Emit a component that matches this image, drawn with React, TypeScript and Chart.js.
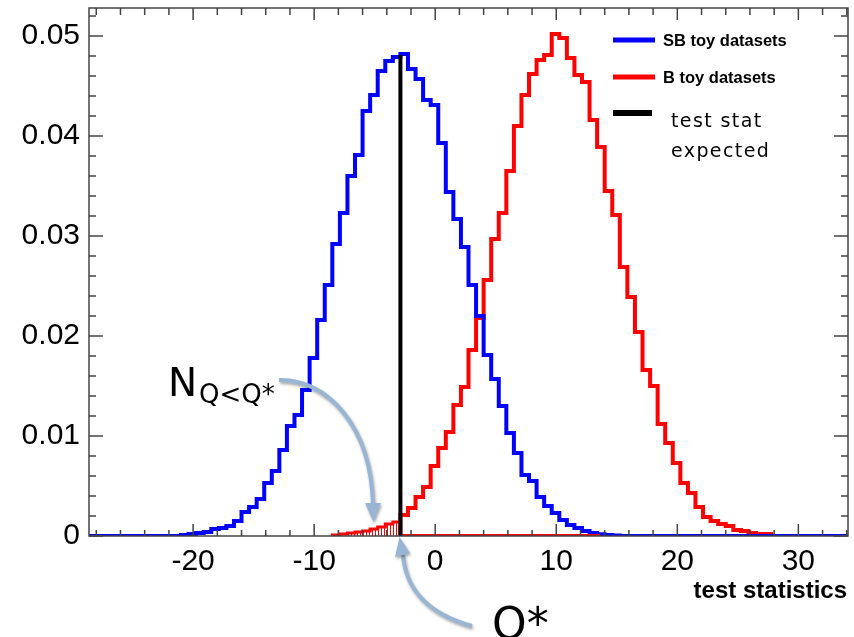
import React, { useEffect, useRef } from "react";
import { Chart, registerables } from "chart.js";

Chart.register(...registerables);

// ---------------- data ----------------
const binStart = -28.5;
const binWidth = 0.625;

// SB toy datasets histogram (blue), bins starting at index sbFirstBin
const sbFirstBin = 12;
const sbValues = [
  0.0001, 0.0002, 0.0003, 0.0004, 0.0007, 0.0008, 0.001, 0.0015, 0.0024, 0.0029,
  0.0037, 0.0053, 0.0065, 0.0086, 0.011, 0.0121, 0.0146, 0.0178, 0.0216, 0.0251,
  0.0292, 0.0323, 0.036, 0.0381, 0.0425, 0.0441, 0.0465, 0.0475, 0.0479, 0.0482,
  0.0467, 0.0457, 0.0436, 0.0431, 0.0393, 0.0344, 0.0317, 0.0289, 0.0251, 0.022,
  0.0181, 0.0157, 0.013, 0.0103, 0.0083, 0.0061, 0.0055, 0.0039, 0.003, 0.0023,
  0.0016, 0.0011, 0.0008, 0.0005, 0.0003, 0.00017, 0.0001, 0.00005,
];

// B toy datasets histogram (red)
const bFirstBin = 32;
const bValues = [
  0.0001, 0.0002, 0.0003, 0.0004, 0.0005, 0.0007, 0.0009, 0.0012, 0.0014, 0.0021,
  0.0028, 0.0039, 0.0049, 0.007, 0.0088, 0.0104, 0.0131, 0.0149, 0.0186, 0.0218,
  0.0256, 0.0297, 0.0323, 0.0365, 0.041, 0.0441, 0.0462, 0.0476, 0.0481, 0.0502,
  0.0498, 0.0478, 0.0461, 0.0454, 0.0416, 0.0389, 0.0345, 0.0321, 0.0269, 0.0239,
  0.0204, 0.0166, 0.015, 0.0112, 0.0093, 0.0073, 0.0053, 0.0043, 0.0029, 0.0019,
  0.0015, 0.0012, 0.001, 0.0006, 0.0005, 0.0003, 0.0002, 0.0002,
];

// expected test statistic
const qStar = -2.875;
const qStarHeight = 0.0481;
const redBaselineEnd = 13.6;

// axes
const xMin = -28.6;
const xMax = 34.1;
const yMin = 0;
const yMax = 0.0528;
const xMajorTicks = [-20, -10, 0, 10, 20, 30];
const yMajorTicks = [0, 0.01, 0.02, 0.03, 0.04, 0.05];
const xMinorStep = 2;
const yMinorStep = 0.002;

const legendLabels = ["SB toy datasets", "B toy datasets"];
const legendExtra = ["test stat", "expected"];
const xTitle = "test statistics";
const annotationN = "N";
const annotationSub = "Q<Q*";
const annotationQ = "Q*";

// ---------------- helpers ----------------
const edge = (k: number) => binStart + k * binWidth;

function histPoints(first: number, values: number[], padMin?: number, padMax?: number) {
  const pts: { x: number; y: number }[] = [];
  if (padMin !== undefined) pts.push({ x: padMin, y: 0 });
  pts.push({ x: edge(first), y: 0 });
  values.forEach((v, i) => pts.push({ x: edge(first + i), y: v }));
  const last = first + values.length;
  pts.push({ x: edge(last), y: values[values.length - 1] });
  pts.push({ x: edge(last), y: 0 });
  if (padMax !== undefined) pts.push({ x: padMax, y: 0 });
  return pts;
}

const SANS = '"Liberation Sans", Arial, Helvetica, sans-serif';
const GEO = '"DejaVu Sans", sans-serif';

const overlayPlugin = {
  id: "overlay",
  afterDatasetsDraw(chart: any) {
    const { ctx, chartArea: a, scales } = chart;
    const xs = scales.x;
    const ys = scales.y;
    ctx.save();
    ctx.strokeStyle = "#444";
    ctx.lineWidth = 1.5;
    ctx.strokeRect(a.left, a.top, a.right - a.left, a.bottom - a.top);
    ctx.beginPath();
    for (let v = Math.ceil(xMin / xMinorStep) * xMinorStep; v <= xMax; v += xMinorStep) {
      const px = xs.getPixelForValue(v);
      const major = xMajorTicks.includes(v);
      ctx.moveTo(px, a.bottom);
      ctx.lineTo(px, a.bottom - (major ? 12 : 6));
      ctx.moveTo(px, a.top);
      ctx.lineTo(px, a.top + (major ? 12 : 7));
    }
    for (let i = 0; ; i++) {
      const v = i * yMinorStep;
      if (v > yMax) break;
      const py = ys.getPixelForValue(v);
      const major = i % 5 === 0;
      ctx.moveTo(a.left, py);
      ctx.lineTo(a.left + (major ? 14 : 7), py);
      ctx.moveTo(a.right, py);
      ctx.lineTo(a.right - (major ? 14 : 7), py);
    }
    ctx.stroke();
    ctx.restore();
  },
  afterDraw(chart: any) {
    const { ctx } = chart;
    ctx.save();
    // legend
    const legendColors = ["#0000ff", "#ff0000"];
    const legendY = [40, 77];
    ctx.lineCap = "butt";
    legendLabels.forEach((lab, i) => {
      ctx.strokeStyle = legendColors[i];
      ctx.lineWidth = 5;
      ctx.beginPath();
      ctx.moveTo(613, legendY[i]);
      ctx.lineTo(655, legendY[i]);
      ctx.stroke();
      ctx.fillStyle = "#000";
      ctx.font = `bold 16.5px ${SANS}`;
      ctx.textBaseline = "alphabetic";
      ctx.textAlign = "left";
      ctx.fillText(lab, 663, legendY[i] + 6);
    });
    ctx.strokeStyle = "#000";
    ctx.lineWidth = 6;
    ctx.beginPath();
    ctx.moveTo(613, 113);
    ctx.lineTo(652, 113);
    ctx.stroke();
    ctx.font = `19px ${GEO}`;
    (ctx as any).letterSpacing = "1.4px";
    ctx.fillText(legendExtra[0], 671, 127);
    ctx.fillText(legendExtra[1], 671, 157);
    (ctx as any).letterSpacing = "0px";

    // axis title
    ctx.font = `bold 24px ${SANS}`;
    ctx.textAlign = "right";
    ctx.fillText(xTitle, 847, 598);

    // annotations
    ctx.textAlign = "left";
    ctx.font = `39px ${GEO}`;
    ctx.fillText(annotationN, 168, 396);
    ctx.font = `26px ${GEO}`;
    ctx.fillText(annotationSub, 199, 403);
    ctx.font = `44px ${GEO}`;
    ctx.fillText(annotationQ, 492, 639);

    // arrows
    ctx.shadowColor = "rgba(0,0,0,0.35)";
    ctx.shadowBlur = 3;
    ctx.shadowOffsetX = 1;
    ctx.shadowOffsetY = 2;
    ctx.strokeStyle = "#98b6d4";
    ctx.fillStyle = "#98b6d4";
    ctx.lineWidth = 4;
    ctx.beginPath();
    ctx.moveTo(279, 380);
    ctx.bezierCurveTo(327, 379, 371, 425, 373, 505);
    ctx.stroke();
    ctx.beginPath();
    ctx.moveTo(373.5, 522);
    ctx.lineTo(365, 503);
    ctx.lineTo(381, 503);
    ctx.closePath();
    ctx.fill();

    ctx.beginPath();
    ctx.moveTo(472, 626);
    ctx.bezierCurveTo(432, 615, 406, 592, 403, 555);
    ctx.stroke();
    ctx.beginPath();
    ctx.moveTo(399.5, 537);
    ctx.lineTo(395, 557);
    ctx.lineTo(410, 553);
    ctx.closePath();
    ctx.fill();
    ctx.restore();
  },
};

export default function App() {
  const canvasRef = useRef<HTMLCanvasElement | null>(null);

  useEffect(() => {
    document.body.style.margin = "0";
    document.body.style.overflow = "hidden";
    const canvas = canvasRef.current!;
    const ctx = canvas.getContext("2d")!;

    const pc = document.createElement("canvas");
    pc.width = 3;
    pc.height = 3;
    const pctx = pc.getContext("2d")!;
    pctx.fillStyle = "#ff0000";
    pctx.fillRect(0, 0, 1, 3);
    const hatch = ctx.createPattern(pc, "repeat");

    const qBin = Math.round((qStar - binStart) / binWidth);
    const tailVals = bValues.slice(0, qBin - bFirstBin);
    const mainVals = bValues.slice(qBin - bFirstBin);

    const common = {
      showLine: true,
      pointRadius: 0,
      pointHoverRadius: 0,
      tension: 0,
    };

    const chart = new Chart(ctx, {
      type: "scatter",
      data: {
        datasets: [
          {
            ...common,
            label: "test stat expected",
            data: [
              { x: qStar, y: 0 },
              { x: qStar, y: qStarHeight },
            ],
            borderColor: "#000000",
            borderWidth: 4,
          },
          {
            ...common,
            label: "B baseline",
            data: [
              { x: qStar, y: 0 },
              { x: redBaselineEnd, y: 0 },
            ],
            borderColor: "#ff0000",
            borderWidth: 4,
          },
          {
            ...common,
            label: "SB toy datasets",
            data: histPoints(sbFirstBin, sbValues, xMin, xMax),
            stepped: "before",
            borderColor: "#0000ff",
            borderWidth: 4,
          },
          {
            ...common,
            label: "B toy datasets",
            data: histPoints(qBin, mainVals),
            stepped: "before",
            borderColor: "#ff0000",
            borderWidth: 4,
          },
          {
            ...common,
            label: "B tail",
            data: histPoints(bFirstBin, tailVals),
            stepped: "before",
            borderColor: "#ff0000",
            borderWidth: 3,
            fill: "origin",
            backgroundColor: hatch as any,
          },
        ] as any,
      },
      options: {
        animation: false,
        responsive: false,
        maintainAspectRatio: false,
        events: [],
        layout: { padding: { top: 8, right: 6, left: 0, bottom: 0 } },
        plugins: {
          legend: { display: false },
          tooltip: { enabled: false },
        },
        scales: {
          x: {
            type: "linear",
            min: xMin,
            max: xMax,
            grid: { display: false, drawTicks: false },
            border: { display: false },
            afterBuildTicks: (scale: any) => {
              scale.ticks = xMajorTicks.map((v) => ({ value: v }));
            },
            afterFit: (scale: any) => {
              scale.height = 101;
              scale.paddingLeft = 0;
              scale.paddingRight = 0;
              scale.paddingTop = 0;
              scale.paddingBottom = 0;
            },
            ticks: {
              color: "#000",
              padding: 8,
              maxRotation: 0,
              autoSkip: false,
              font: { family: SANS, size: 30 },
              callback: (v: any) => String(v),
            },
          },
          y: {
            type: "linear",
            min: yMin,
            max: yMax,
            grid: { display: false, drawTicks: false },
            border: { display: false },
            afterBuildTicks: (scale: any) => {
              scale.ticks = yMajorTicks.map((v) => ({ value: v }));
            },
            afterFit: (scale: any) => {
              scale.width = 89;
              scale.paddingLeft = 0;
              scale.paddingRight = 0;
              scale.paddingTop = 0;
              scale.paddingBottom = 0;
            },
            ticks: {
              color: "#000",
              padding: 9,
              autoSkip: false,
              font: { family: SANS, size: 30 },
              callback: (v: any) => (Number(v) === 0 ? "0" : Number(v).toFixed(2)),
            },
          },
        },
      } as any,
      plugins: [overlayPlugin],
    });

    return () => chart.destroy();
  }, []);

  return (
    <div style={{ width: 854, height: 637, position: "relative", background: "#fff" }}>
      <canvas ref={canvasRef} width={854} height={637} style={{ display: "block" }} />
    </div>
  );
}
